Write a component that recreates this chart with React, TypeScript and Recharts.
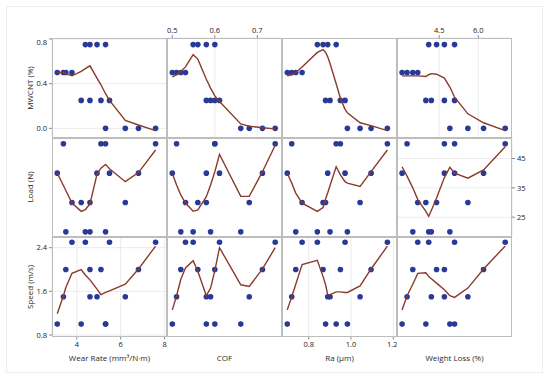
import { ComposedChart, Scatter, XAxis, YAxis, CartesianGrid } from "recharts";

// 16 runs (L16 design): factors
const mwcnt = [0, 0, 0, 0, 0.25, 0.25, 0.25, 0.25, 0.5, 0.5, 0.5, 0.5, 0.75, 0.75, 0.75, 0.75];
const load = [20, 30, 40, 50, 20, 30, 40, 50, 20, 30, 40, 50, 20, 30, 40, 50];
const speed = [1.0, 1.5, 2.0, 2.5, 1.5, 1.0, 2.5, 2.0, 2.0, 2.5, 1.0, 1.5, 2.5, 2.0, 1.5, 1.0];

// responses
const wearRate = [5.31, 6.21, 6.81, 7.59, 4.6, 4.2, 5.49, 5.1, 3.5, 3.78, 3.11, 3.39, 4.39, 4.6, 4.92, 5.31];
const cof = [0.661, 0.681, 0.712, 0.742, 0.59, 0.58, 0.611, 0.6, 0.52, 0.531, 0.5, 0.51, 0.549, 0.56, 0.58, 0.6];
const ra = [0.983, 1.043, 1.095, 1.172, 0.901, 0.88, 0.972, 0.95, 0.739, 0.769, 0.699, 0.72, 0.841, 0.868, 0.89, 0.93];
const weightLoss = [4.91, 5.6, 6.2, 7.03, 4.2, 3.99, 5.09, 4.7, 3.49, 3.68, 3.08, 3.27, 4.1, 4.4, 4.7, 5.09];

// lowess fits, one value per distinct x (ascending)
const fitMwcntWearRate = [0.5, 0.5, 0.49, 0.47, 0.51, 0.535, 0.56, 0.45, 0.39, 0.31, 0.25, 0.07, 0.03, -0.02];
const fitMwcntCof = [0.46, 0.48, 0.51, 0.55, 0.66, 0.62, 0.44, 0.36, 0.29, 0.24, 0.04, 0.02, 0.005, -0.005];
const fitMwcntRa = [0.47, 0.48, 0.5, 0.55, 0.68, 0.705, 0.68, 0.64, 0.58, 0.4, 0.27, 0.17, 0.14, 0.05, 0.025, -0.02];
const fitMwcntWeightLoss = [0.47, 0.47, 0.47, 0.47, 0.465, 0.48, 0.49, 0.485, 0.45, 0.37, 0.28, 0.13, 0.05, -0.02];

const fitLoadWearRate = [40, 35.8, 34.1, 29.8, 27, 27.6, 29.5, 39.6, 41.7, 43, 41.5, 37.1, 40.2, 47.9];
const fitLoadCof = [40, 36, 32.6, 29.8, 27, 27.5, 32, 36, 40.5, 46.4, 32.1, 32.1, 40.5, 49.5];
const fitLoadRa = [40, 36.6, 33.2, 29.8, 27, 28.3, 31.2, 33.3, 35.8, 42.2, 39.4, 37.1, 36.6, 35.5, 40.5, 47.9];
const fitLoadWeightLoss = [42.2, 39, 35, 31, 27, 25.3, 27.3, 31.5, 38.5, 42, 40, 38.3, 41.1, 49];

const fitSpeedWearRate = [1.19, 1.52, 1.67, 1.93, 2.0, 1.9, 1.81, 1.64, 1.54, 1.58, 1.61, 1.73, 2.01, 2.43];
const fitSpeedCof = [1.26, 1.52, 1.82, 2.03, 2.16, 1.97, 1.52, 1.66, 1.98, 2.4, 1.72, 1.69, 2.01, 2.4];
const fitSpeedRa = [1.26, 1.5, 1.73, 2.09, 2.17, 1.87, 1.72, 1.54, 1.54, 1.59, 1.59, 1.58, 1.58, 1.7, 2.01, 2.43];
const fitSpeedWeightLoss = [1.26, 1.52, 1.73, 1.93, 1.94, 1.87, 1.83, 1.75, 1.63, 1.52, 1.49, 1.66, 2.01, 2.43];

const rowTitles = ["MWCNT (%)", "Load (N)", "Speed (m/s)"];
const colTitles = ["Wear Rate (mm³/N·m)", "COF", "Ra (µm)", "Weight Loss (%)"];
const rowTicks = [[0, 0.4, 0.8], [25, 35, 45], [0.8, 1.6, 2.4]];
const colTicks = [[4, 6, 8], [0.5, 0.6, 0.7], [0.8, 1.0, 1.2], [3.0, 4.5, 6.0]];

const rowValues = [mwcnt, load, speed];
const colValues = [wearRate, cof, ra, weightLoss];
const fits = [
  [fitMwcntWearRate, fitMwcntCof, fitMwcntRa, fitMwcntWeightLoss],
  [fitLoadWearRate, fitLoadCof, fitLoadRa, fitLoadWeightLoss],
  [fitSpeedWearRate, fitSpeedCof, fitSpeedRa, fitSpeedWeightLoss],
];

const rowDomains: [number, number][] = [[-0.082, 0.809], [18.08, 51.98], [0.7725, 2.596]];
const colDomains: [number, number][] = [[2.87, 8.11], [0.4875, 0.758], [0.674, 1.2175], [2.885, 7.29]];
const rowFmt = [(v: number) => v.toFixed(1), (v: number) => String(v), (v: number) => v.toFixed(1)];
const colFmt = [(v: number) => String(v), (v: number) => v.toFixed(1), (v: number) => v.toFixed(1), (v: number) => v.toFixed(1)];

const COL_LEFT = [52, 167, 282, 397];
const ROW_TOP = [38, 137.5, 237];
const PW = 115;
const PH = 99.5;
const AXW = 30;
const AXH = 16;

const FONT = "'Open Sans', 'Noto Sans', sans-serif";
const DOT = "#283a96";
const FIT = "#8a3b2c";

const uniq = (a: number[]) => [...new Set(a)].sort((p, q) => p - q);

function Panel({ r, c }: { r: number; c: number }) {
  const showLeft = c === 0 && r !== 1;
  const showRight = c === 3 && r === 1;
  const showTop = r === 0 && (c === 1 || c === 3);
  const showBottom = r === 2 && (c === 0 || c === 2);

  const pts = colValues[c].map((x, i) => ({ x, y: rowValues[r][i] }));
  const fitLine = uniq(colValues[c]).map((x, i) => ({ x, y: fits[r][c][i] }));

  const w = PW + (showLeft ? AXW : 0) + (showRight ? AXW : 0);
  const h = PH + (showTop ? AXH : 0) + (showBottom ? AXH : 0);
  const tickStyle = { fontSize: 7.5, fill: "#222", fontFamily: FONT };

  return (
    <div
      style={{
        position: "absolute",
        left: COL_LEFT[c] - (showLeft ? AXW : 0),
        top: ROW_TOP[r] - (showTop ? AXH : 0),
      }}
    >
      <ComposedChart width={w} height={h} margin={{ top: 0, right: 0, bottom: 0, left: 0 }}>
        <CartesianGrid stroke="#ebebeb" strokeWidth={1} />
        <XAxis
          type="number"
          dataKey="x"
          domain={colDomains[c]}
          allowDataOverflow
          ticks={colTicks[c]}
          orientation={showTop ? "top" : "bottom"}
          height={showTop || showBottom ? AXH : 0}
          tick={showTop || showBottom ? tickStyle : false}
          tickLine={showTop || showBottom ? { stroke: "#8c8c8c" } : false}
          tickSize={3}
          tickMargin={2}
          axisLine={false}
          tickFormatter={colFmt[c]}
        />
        <YAxis
          type="number"
          dataKey="y"
          domain={rowDomains[r]}
          allowDataOverflow
          ticks={rowTicks[r]}
          orientation={showRight ? "right" : "left"}
          width={showLeft || showRight ? AXW : 0}
          tick={showLeft || showRight ? tickStyle : false}
          tickLine={showLeft || showRight ? { stroke: "#8c8c8c" } : false}
          tickSize={3}
          tickMargin={2}
          axisLine={false}
          tickFormatter={rowFmt[r]}
        />
        <Scatter
          data={pts}
          isAnimationActive={false}
          shape={(p: any) => <circle cx={p.cx} cy={p.cy} r={2.8} fill={DOT} />}
        />
        <Scatter
          data={fitLine}
          isAnimationActive={false}
          line={{ stroke: FIT, strokeWidth: 1.4 }}
          shape={() => <g />}
        />
      </ComposedChart>
    </div>
  );
}

export default function App() {
  const cells = [];
  for (let r = 0; r < 3; r++) {
    for (let c = 0; c < 4; c++) {
      cells.push(<Panel key={`p${r}${c}`} r={r} c={c} />);
      cells.push(
        <div
          key={`b${r}${c}`}
          style={{
            position: "absolute",
            left: COL_LEFT[c],
            top: ROW_TOP[r],
            width: PW,
            height: PH,
            border: "1px solid #bdbdbd",
            boxSizing: "border-box",
            pointerEvents: "none",
          }}
        />
      );
    }
  }

  return (
    <div
      style={{
        position: "fixed",
        left: 0,
        top: 0,
        width: 550,
        height: 379,
        background: "#fff",
        overflow: "hidden",
        fontFamily: FONT,
      }}
    >
      <div
        style={{
          position: "absolute",
          left: 6,
          top: 6,
          width: 537,
          height: 367,
          border: "1px solid #ededed",
          boxSizing: "border-box",
        }}
      />
      {cells}
      {rowTitles.map((t, r) => (
        <div
          key={t}
          style={{
            position: "absolute",
            left: 29,
            top: ROW_TOP[r] + PH / 2,
            transform: "translate(-50%, -50%) rotate(-90deg)",
            whiteSpace: "nowrap",
            fontSize: 8,
            color: "#2a2a2a",
          }}
        >
          {t}
        </div>
      ))}
      {colTitles.map((t, c) => (
        <div
          key={t}
          style={{
            position: "absolute",
            left: COL_LEFT[c] + PW / 2,
            top: 357,
            transform: "translate(-50%, -50%)",
            whiteSpace: "nowrap",
            fontSize: 8,
            color: "#2a2a2a",
          }}
        >
          {t}
        </div>
      ))}
    </div>
  );
}
